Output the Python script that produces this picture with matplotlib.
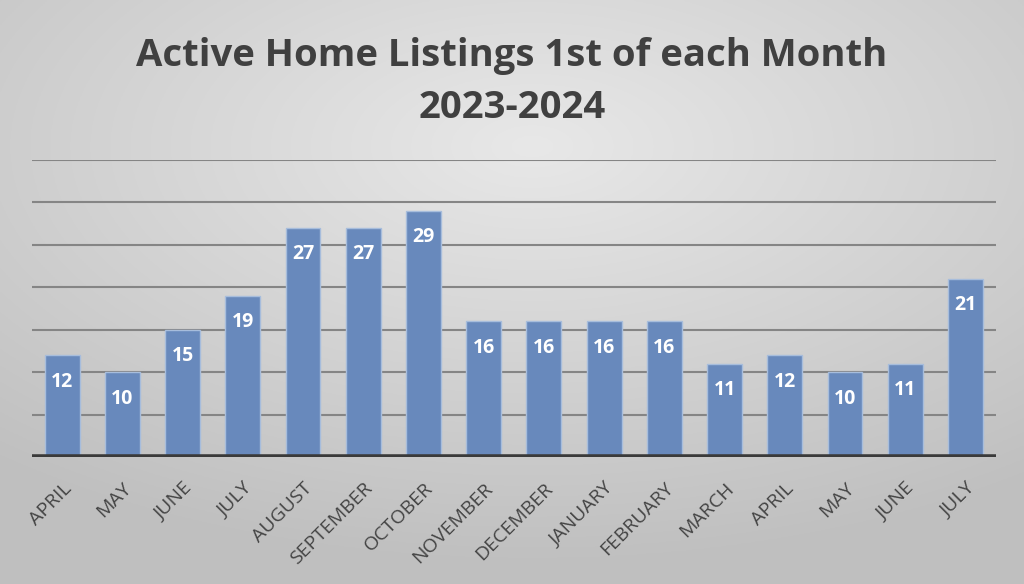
import numpy as np
import matplotlib.pyplot as plt

# 数据
months = ['APRIL', 'MAY', 'JUNE', 'JULY', 'AUGUST', 'SEPTEMBER', 'OCTOBER',
          'NOVEMBER', 'DECEMBER', 'JANUARY', 'FEBRUARY', 'MARCH',
          'APRIL', 'MAY', 'JUNE', 'JULY']
listings = [12, 10, 15, 19, 27, 27, 29, 16, 16, 16, 16, 11, 12, 10, 11, 21]
y_ticks = [5, 10, 15, 20, 25, 30, 35]

title = 'Active Home Listings 1st of each Month\n2023-2024'

plt.rcParams['font.family'] = ['Open Sans', 'DejaVu Sans']

fig = plt.figure(figsize=(10.24, 5.84), dpi=100)

# 背景渐变
bg = fig.add_axes([0, 0, 1, 1], zorder=0)
yy, xx = np.mgrid[0:1:300j, 0:1:500j]
r = np.sqrt(((xx - 0.52) / 1.0) ** 2 + ((yy - 0.25) / 0.9) ** 2)
r = np.clip(r / 0.8, 0, 1)
light = np.array([0.91, 0.91, 0.91])
dark = np.array([0.75, 0.75, 0.75])
img = light[None, None, :] * (1 - r[..., None]) + dark[None, None, :] * r[..., None]
bg.imshow(img, extent=[0, 1, 0, 1], aspect='auto', origin='upper')
bg.axis('off')

ax = fig.add_axes([0.03125, 0.2175, 0.941, 0.5086], zorder=1)
ax.patch.set_alpha(0)

x = np.arange(len(months))
bars = ax.bar(x, listings, width=0.58, color='#6889BC', edgecolor='#A7BDDC',
              linewidth=1.0, zorder=3)

for xi, v in zip(x, listings):
    ax.annotate(str(v), (xi, v), xytext=(0, -19), textcoords='offset points',
                ha='center', va='center', color='white', fontsize=14,
                fontweight='bold', zorder=4)

ax.set_xlim(-0.5, len(months) - 0.5)
ax.set_ylim(0, 35)
for t in y_ticks:
    ax.axhline(t, color='#858585', linewidth=1.5, zorder=1)
ax.axhline(0, color='#3A3A3A', linewidth=4, zorder=5)

for s in ax.spines.values():
    s.set_visible(False)
ax.set_yticks([])
ax.set_xticks(x)
ax.set_xticklabels(months, rotation=45, ha='right', va='top',
                   rotation_mode='anchor', fontsize=14, color='#454545')
ax.tick_params(axis='x', length=0, pad=16)

fig.text(0.5, 0.86, title, ha='center', va='center', fontsize=27.5,
         fontweight='bold', color='#404040', linespacing=1.5)

plt.savefig('out.png', dpi=100)
